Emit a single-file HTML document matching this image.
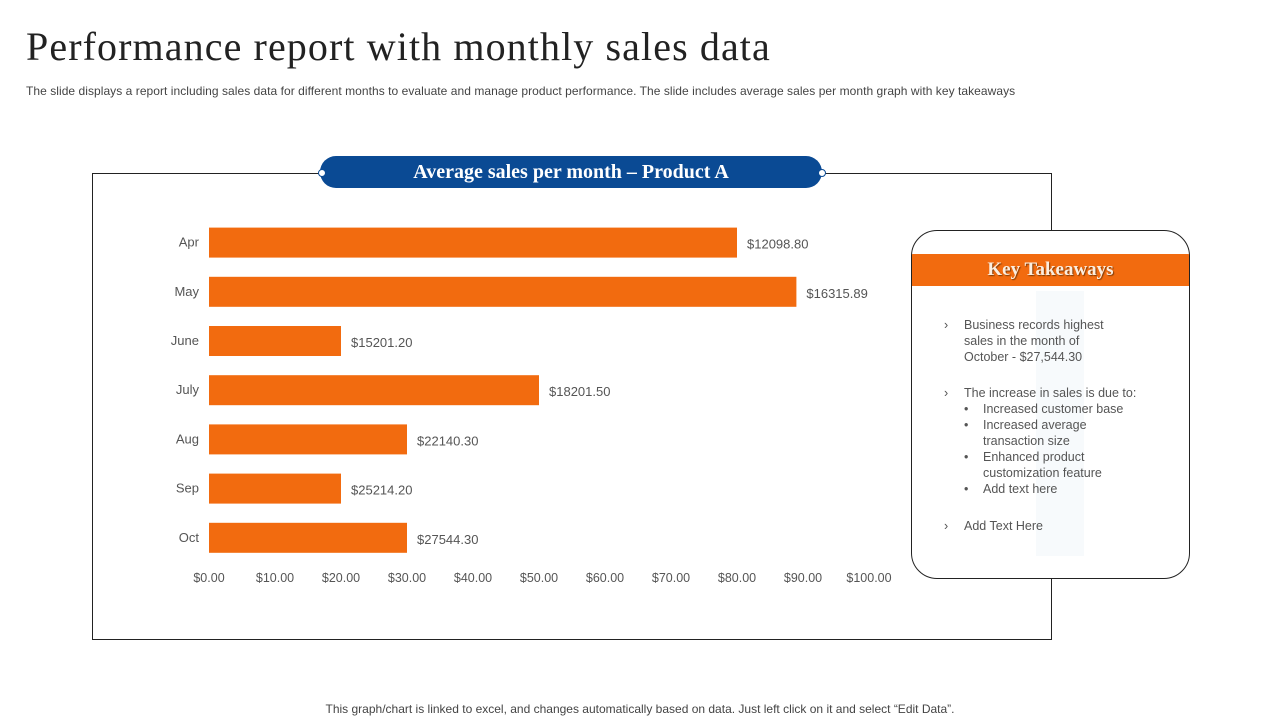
<!DOCTYPE html>
<html><head><meta charset="utf-8"><style>
body{margin:0;width:1280px;height:720px;background:#fff;position:relative;overflow:hidden;font-family:"Liberation Sans",sans-serif}
.abs{position:absolute}
</style></head><body>
<div class="abs" style="left:26px;top:23px;font-family:'Liberation Serif',serif;font-size:40px;color:#222;letter-spacing:1.1px">Performance report with monthly sales data</div>
<div class="abs" style="left:26px;top:84px;font-size:12px;color:#444;letter-spacing:0.05px">The slide displays a report including sales data for different months to evaluate and manage product performance. The slide includes average sales per month graph with key takeaways</div>
<div class="abs" style="left:92px;top:173px;width:958px;height:465px;border:1px solid #222"></div>
<div class="abs" style="left:320px;top:156px;width:502px;height:32px;background:#0a4a94;border-radius:16px;color:#fff;font-family:'Liberation Serif',serif;font-weight:bold;font-size:20px;text-align:center;line-height:33px">Average sales per month – Product A</div>
<div class="abs" style="left:318px;top:169px;width:6px;height:6px;border:1px solid #0a4a94;border-radius:50%;background:#fff"></div>
<div class="abs" style="left:818px;top:169px;width:6px;height:6px;border:1px solid #0a4a94;border-radius:50%;background:#fff"></div>
<svg id="chart" class="abs" style="left:0;top:0" width="1280" height="720"></svg>
<div class="abs" style="left:911px;top:230px;width:277px;height:347px;border:1px solid #222;border-radius:26px;background:#fff;overflow:hidden">
<div style="position:absolute;left:0;top:23px;width:100%;height:32px;background:#f26b0f;color:#fbeee0;font-family:'Liberation Serif',serif;font-weight:bold;font-size:19px;text-align:center;line-height:32px;text-shadow:1px 1px 1px #7a3a08">Key Takeaways</div>
<div style="position:absolute;left:124px;top:60px;width:48px;height:265px;background:#f7fafc"></div>
<div style="position:absolute;left:32px;top:86px;font-size:12.5px;line-height:16px;color:#555">
<div style="position:relative;padding-left:20px"><span style="position:absolute;left:0">›</span>Business records highest<br>sales in the month of<br>October - $27,544.30</div>
<div style="position:relative;padding-left:20px;margin-top:20px"><span style="position:absolute;left:0">›</span>The increase in sales is due to:
<div style="padding-left:19px;position:relative"><span style="position:absolute;left:0">•</span>Increased customer base</div>
<div style="padding-left:19px;position:relative"><span style="position:absolute;left:0">•</span>Increased average<br>transaction size</div>
<div style="padding-left:19px;position:relative"><span style="position:absolute;left:0">•</span>Enhanced product<br>customization feature</div>
<div style="padding-left:19px;position:relative"><span style="position:absolute;left:0">•</span>Add text here</div></div>
<div style="position:relative;padding-left:20px;margin-top:21px"><span style="position:absolute;left:0">›</span>Add Text Here</div>
</div></div>
<div class="abs" style="left:0;width:1280px;top:702px;text-align:center;font-size:12px;color:#444">This graph/chart is linked to excel, and changes automatically based on data. Just left click on it and select “Edit Data”.</div>
<script>
const categories=["Apr","May","June","July","Aug","Sep","Oct"];
const values=[80,89,20,50,30,20,30];
const valueLabels=["$12098.80","$16315.89","$15201.20","$18201.50","$22140.30","$25214.20","$27544.30"];
const ticks=[0,10,20,30,40,50,60,70,80,90,100];
const NS="http://www.w3.org/2000/svg";
const svg=document.getElementById('chart');
const x0=209,x1=869,yTop=218,band=49.2,barH=30;
const xs=v=>x0+(v/100)*(x1-x0);
const yc=i=>yTop+band*i+band/2;
function mk(t,a){const e=document.createElementNS(NS,t);for(const k in a)e.setAttribute(k,a[k]);svg.appendChild(e);return e;}
categories.forEach((c,i)=>{
 const r=mk('rect',{x:x0,y:yc(i)-barH/2,width:xs(values[i])-x0,height:barH,fill:'#f26b0f'});
 
 
 const l=mk('text',{x:199,y:yc(i)+4,'text-anchor':'end','font-size':13,fill:'#555','font-family':'Liberation Sans'});
 l.textContent=c;
 
 
 const v=mk('text',{x:xs(values[i])+10,y:yc(i)+6,'font-size':13,fill:'#555','font-family':'Liberation Sans'});
 v.textContent=valueLabels[i];
 
 
});
ticks.forEach(t=>{
 const e=mk('text',{x:xs(t),y:582,'text-anchor':'middle','font-size':12.5,fill:'#555','font-family':'Liberation Sans'});
 e.textContent='$'+t.toFixed(2);
 
 
});
</script>
</body></html>
